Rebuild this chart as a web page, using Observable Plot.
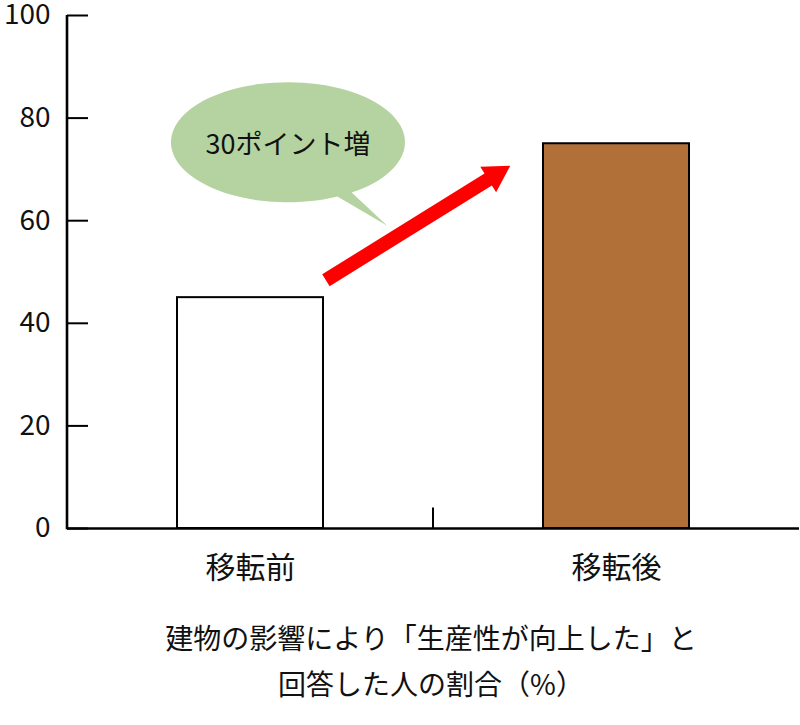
<!DOCTYPE html>
<html><head><meta charset="utf-8">
<script src="https://cdn.jsdelivr.net/npm/d3@7"></script>
<script src="https://cdn.jsdelivr.net/npm/@observablehq/plot@0.6"></script>
<style>
body{margin:0;background:#fff;font-family:"Noto Sans CJK JP",sans-serif}
#cap{padding:14px 0 0 62px;text-align:center;font-size:28px;line-height:46px;color:#111}
</style></head><body><div id="chart"></div><div id="cap"></div>
<script>
const categories = ["移転前", "移転後"];
const values = [45, 75];
const barFills = ["#ffffff", "#b07038"];
const yTicks = [0, 20, 40, 60, 80, 100];
const calloutText = "30ポイント増";
const captionLines = ["建物の影響により「生産性が向上した」と", "回答した人の割合（%）"];
// annotation anchors: category + fraction of its band, y in data units
const arrowFrom = {cat: categories[0], t: 1.02, y: 48.3};
const arrowTo = {cat: categories[1], t: -0.224, y: 70.6};
const bubbleCenter = {cat: categories[0], t: 0.76, y: 75.2};
const bubbleTip = {cat: categories[0], t: 1.44, y: 58.9};

const table = categories.map((c, i) => ({cat: c, value: values[i], fill: barFills[i]}));
const FONT = '"Noto Sans CJK JP", sans-serif';

function annotations(index, scales, vals, dims) {
  const x = scales.x, y = scales.y;
  const bw = x.bandwidth ? x.bandwidth() : 0;
  const px = p => x(p.cat) + p.t * bw;
  const g = d3.create("svg:g");
  // y axis line
  g.append("line").attr("x1", dims.marginLeft).attr("x2", dims.marginLeft)
    .attr("y1", y(0) + 1.2).attr("y2", y(d3.max(yTicks)))
    .attr("stroke", "#000").attr("stroke-width", 2.6);
  // boundary tick between categories
  const xb = (x(categories[0]) + x(categories[1]) + bw) / 2;
  g.append("line").attr("x1", xb).attr("x2", xb).attr("y1", y(0)).attr("y2", y(4))
    .attr("stroke", "#000").attr("stroke-width", 2);
  // speech bubble
  const cx = px(bubbleCenter), cy = y(bubbleCenter.y), rx = 117, ry = 60;
  const a1 = 57 * Math.PI / 180, a2 = 65 * Math.PI / 180;
  const p1 = [cx + rx * Math.cos(a1), cy + ry * Math.sin(a1)];
  const p2 = [cx + rx * Math.cos(a2), cy + ry * Math.sin(a2)];
  const tip = [px(bubbleTip), y(bubbleTip.y)];
  g.append("path")
    .attr("d", `M${p1}L${tip}L${p2}A${rx},${ry} 0 1 1 ${p1}Z`)
    .attr("fill", "#b5d3a0");
  g.append("text").attr("x", cx).attr("y", cy).attr("text-anchor", "middle")
    .attr("dominant-baseline", "central").attr("font-size", 27)
    .attr("font-family", FONT).attr("fill", "#111").text(calloutText);
  // arrow
  const S = [px(arrowFrom), y(arrowFrom.y)], E = [px(arrowTo), y(arrowTo.y)];
  const L = Math.hypot(E[0] - S[0], E[1] - S[1]);
  const u = [(E[0] - S[0]) / L, (E[1] - S[1]) / L], n = [-u[1], u[0]];
  const hw = 7, hl = 26, hh = 15;
  const B = [E[0] - u[0] * hl, E[1] - u[1] * hl];
  const pt = (P, k) => [P[0] + n[0] * k, P[1] + n[1] * k];
  const poly = [pt(S, hw), pt(B, hw), pt(B, hh), E, pt(B, -hh), pt(B, -hw), pt(S, -hw)];
  g.append("path").attr("d", "M" + poly.join("L") + "Z").attr("fill", "#ff0000");
  return g.node();
}

const chart = Plot.plot({
  width: 800,
  height: 600,
  marginLeft: 67,
  marginRight: 1,
  marginTop: 15,
  marginBottom: 72,
  style: {fontFamily: FONT, color: "#111", background: "#fff"},
  x: {domain: categories, paddingInner: 0.6, paddingOuter: 0.3, label: null},
  y: {domain: [0, 100], label: null},
  color: {type: "identity"},
  marks: [
    Plot.barY(table, {x: "cat", y: "value", fill: "fill", stroke: "#000", strokeWidth: 2}),
    Plot.ruleY([0], {stroke: "#000", strokeWidth: 2.6}),
    Plot.axisY({ticks: yTicks, tickSize: -21, tickPadding: 38, fontSize: 28, stroke: "#000", strokeWidth: 2, fill: "#111", label: null}),
    Plot.axisX({tickSize: 0, tickPadding: 28, fontSize: 30, fill: "#111", label: null}),
    annotations
  ]
});
document.getElementById("chart").appendChild(chart);
document.getElementById("cap").innerHTML = captionLines.map(s => `<div>${s}</div>`).join("");
</script></body></html>
